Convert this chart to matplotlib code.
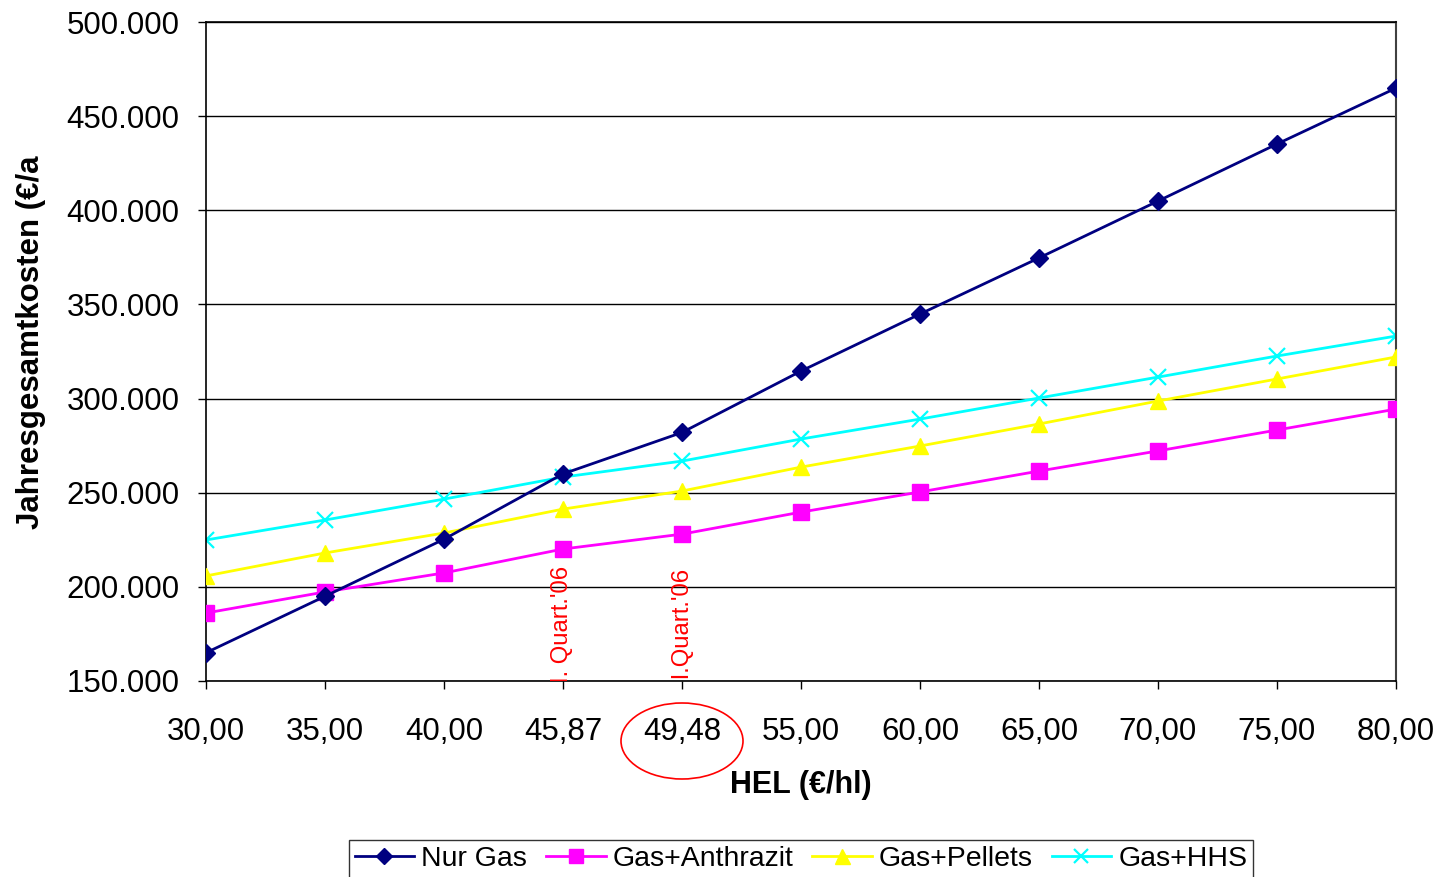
import matplotlib
matplotlib.use("Agg")
import matplotlib.pyplot as plt
from matplotlib.patches import Ellipse
from matplotlib.ticker import FuncFormatter
import matplotlib.transforms as mtransforms

plt.rcParams['font.family'] = ['Liberation Sans', 'DejaVu Sans']

categories = ["30,00", "35,00", "40,00", "45,87", "49,48", "55,00",
              "60,00", "65,00", "70,00", "75,00", "80,00"]
nur_gas = [165000, 195000, 225300, 260000, 282000, 314600, 344900, 374700, 404900, 435200, 464900]
gas_anthrazit = [186100, 197300, 207400, 220100, 228000, 239700, 250400, 261500, 272200, 283300, 294400]
gas_pellets = [205800, 218000, 228600, 241300, 250900, 263600, 274800, 286500, 298700, 310400, 322100]
gas_hhs = [224900, 235500, 246600, 258300, 266800, 278500, 289100, 300300, 311400, 322600, 333200]
series_names = ["Nur Gas", "Gas+Anthrazit", "Gas+Pellets", "Gas+HHS"]
quarter_labels = ["I. Quart.'06", "II.Quart.'06"]
quarter_positions = [3, 4]

fig = plt.figure(figsize=(14.4, 8.77), dpi=100)
ax = fig.add_axes([206/1440, 1-681/877, (1396-206)/1440, (681-22)/877])

x = list(range(len(categories)))
lw = 2.0
ax.plot(x, nur_gas, color='#000080', marker='D', markersize=9.5, lw=lw, label=series_names[0], zorder=5)
ax.plot(x, gas_anthrazit, color='#FF00FF', marker='s', markersize=11, lw=lw, label=series_names[1], zorder=4)
ax.plot(x, gas_pellets, color='#FFFF00', marker='^', markersize=12, lw=lw, label=series_names[2], zorder=3)
ax.plot(x, gas_hhs, color='#00FFFF', marker='x', markersize=11, mew=1.6, lw=lw, label=series_names[3], zorder=2)

ax.set_xlim(0, len(categories)-1)
ax.set_ylim(150000, 500000)
ax.set_yticks(range(150000, 500001, 50000))
ax.yaxis.set_major_formatter(FuncFormatter(lambda v, p: f"{int(v):,}".replace(",", ".")))
ax.set_xticks(x)
ax.set_xticklabels(categories)
ax.grid(axis='y', color='black', lw=1.0)
ax.set_axisbelow(True)
for s in ['left', 'bottom', 'top']:
    ax.spines[s].set_color('black')
    ax.spines[s].set_linewidth(1.2)
ax.spines['right'].set_color('#404040')
ax.spines['right'].set_linewidth(1.5)
ax.tick_params(axis='y', direction='out', length=6, width=1, labelsize=22.5, pad=13)
ax.tick_params(axis='x', direction='out', length=6, width=1, labelsize=22.5, pad=20)

# red quarter annotations, clipped at bottom of axes
trans = mtransforms.blended_transform_factory(ax.transData, ax.transAxes)
for lab, pos in zip(quarter_labels, quarter_positions):
    ax.text(pos - 0.01, (681-566)/659, lab, transform=trans, rotation=90,
            ha='center', va='top', color='red', fontsize=17.2, clip_on=True)

# ellipse around 49,48
ell = Ellipse((4, (681-741)/659), width=122/119, height=76/659, transform=trans,
              fill=False, edgecolor='red', lw=1.2, clip_on=False)
ax.add_patch(ell)

fig.text(801/1440, 1-785/877, "HEL (€/hl)", ha='center', va='center',
         fontsize=22, fontweight='bold')
fig.text(31/1440, 1-342/877, "Jahresgesamtkosten (€/a", ha='center', va='center',
         rotation=90, fontsize=22.5, fontweight='bold')

leg = fig.legend(loc='upper center', bbox_to_anchor=(801/1440, 1-826/877),
                 ncol=4, fontsize=20.5, frameon=True, fancybox=False,
                 edgecolor='black', handlelength=2.1, handletextpad=0.25,
                 columnspacing=0.65, borderpad=0.2, markerscale=0.9)
leg.get_frame().set_linewidth(1.0)

fig.savefig("out.png", dpi=100)
